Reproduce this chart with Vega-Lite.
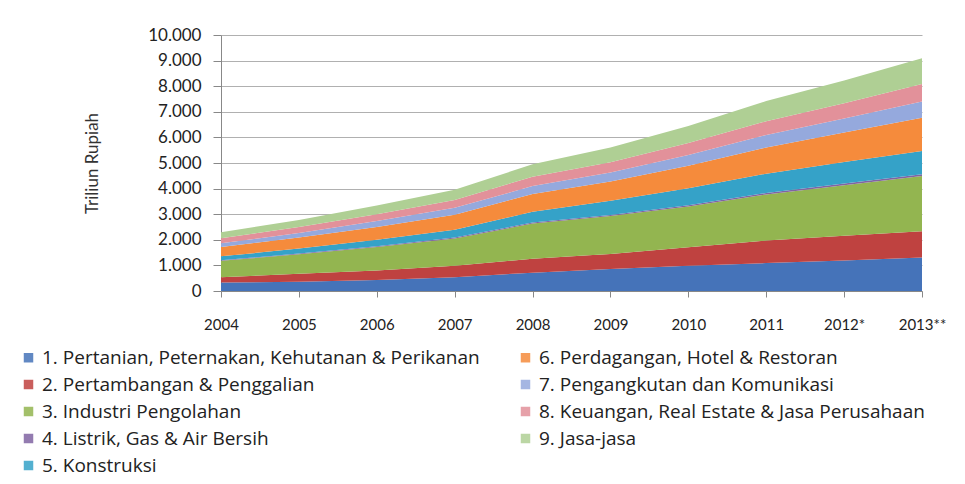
{
  "$schema": "https://vega.github.io/schema/vega-lite/v6.json",
  "autosize": {"type": "none"},
  "width": 701,
  "height": 256,
  "padding": {"left": 221, "top": 35, "right": 43, "bottom": 193},
  "background": "white",
  "config": {"view": {"stroke": null}, "font": "Lato"},
  "datasets": {
    "sectors": [
      {"k": 1, "sector": "1. Pertanian, Peternakan, Kehutanan & Perikanan"},
      {"k": 2, "sector": "2. Pertambangan & Penggalian"},
      {"k": 3, "sector": "3. Industri Pengolahan"},
      {"k": 4, "sector": "4. Listrik, Gas & Air Bersih"},
      {"k": 5, "sector": "5. Konstruksi"},
      {"k": 6, "sector": "6. Perdagangan, Hotel & Restoran"},
      {"k": 7, "sector": "7. Pengangkutan dan Komunikasi"},
      {"k": 8, "sector": "8. Keuangan, Real Estate & Jasa Perusahaan"},
      {"k": 9, "sector": "9. Jasa-jasa"}
    ],
    "gdp": [
      {"year": "2004", "k": 1, "v": 329.1}, {"year": "2004", "k": 2, "v": 205.3}, {"year": "2004", "k": 3, "v": 644.3}, {"year": "2004", "k": 4, "v": 23.7}, {"year": "2004", "k": 5, "v": 151.2}, {"year": "2004", "k": 6, "v": 368.6}, {"year": "2004", "k": 7, "v": 142.3}, {"year": "2004", "k": 8, "v": 194.4}, {"year": "2004", "k": 9, "v": 236.9},
      {"year": "2005", "k": 1, "v": 364.2}, {"year": "2005", "k": 2, "v": 309.0}, {"year": "2005", "k": 3, "v": 760.4}, {"year": "2005", "k": 4, "v": 26.7}, {"year": "2005", "k": 5, "v": 195.1}, {"year": "2005", "k": 6, "v": 431.6}, {"year": "2005", "k": 7, "v": 180.6}, {"year": "2005", "k": 8, "v": 230.5}, {"year": "2005", "k": 9, "v": 276.2},
      {"year": "2006", "k": 1, "v": 433.2}, {"year": "2006", "k": 2, "v": 366.5}, {"year": "2006", "k": 3, "v": 919.5}, {"year": "2006", "k": 4, "v": 30.4}, {"year": "2006", "k": 5, "v": 251.1}, {"year": "2006", "k": 6, "v": 501.5}, {"year": "2006", "k": 7, "v": 231.5}, {"year": "2006", "k": 8, "v": 269.1}, {"year": "2006", "k": 9, "v": 336.3},
      {"year": "2007", "k": 1, "v": 541.9}, {"year": "2007", "k": 2, "v": 440.6}, {"year": "2007", "k": 3, "v": 1068.7}, {"year": "2007", "k": 4, "v": 34.7}, {"year": "2007", "k": 5, "v": 305.2}, {"year": "2007", "k": 6, "v": 592.3}, {"year": "2007", "k": 7, "v": 264.3}, {"year": "2007", "k": 8, "v": 305.2}, {"year": "2007", "k": 9, "v": 398.2},
      {"year": "2008", "k": 1, "v": 716.7}, {"year": "2008", "k": 2, "v": 541.3}, {"year": "2008", "k": 3, "v": 1376.4}, {"year": "2008", "k": 4, "v": 40.9}, {"year": "2008", "k": 5, "v": 419.7}, {"year": "2008", "k": 6, "v": 691.5}, {"year": "2008", "k": 7, "v": 312.2}, {"year": "2008", "k": 8, "v": 368.1}, {"year": "2008", "k": 9, "v": 481.8},
      {"year": "2009", "k": 1, "v": 857.2}, {"year": "2009", "k": 2, "v": 592.1}, {"year": "2009", "k": 3, "v": 1477.5}, {"year": "2009", "k": 4, "v": 46.7}, {"year": "2009", "k": 5, "v": 555.2}, {"year": "2009", "k": 6, "v": 744.5}, {"year": "2009", "k": 7, "v": 353.7}, {"year": "2009", "k": 8, "v": 405.2}, {"year": "2009", "k": 9, "v": 574.1},
      {"year": "2010", "k": 1, "v": 985.5}, {"year": "2010", "k": 2, "v": 719.7}, {"year": "2010", "k": 3, "v": 1595.8}, {"year": "2010", "k": 4, "v": 49.1}, {"year": "2010", "k": 5, "v": 660.9}, {"year": "2010", "k": 6, "v": 882.5}, {"year": "2010", "k": 7, "v": 423.2}, {"year": "2010", "k": 8, "v": 466.6}, {"year": "2010", "k": 9, "v": 663.6},
      {"year": "2011", "k": 1, "v": 1091.4}, {"year": "2011", "k": 2, "v": 876.9}, {"year": "2011", "k": 3, "v": 1803.5}, {"year": "2011", "k": 4, "v": 55.9}, {"year": "2011", "k": 5, "v": 754.5}, {"year": "2011", "k": 6, "v": 1024.0}, {"year": "2011", "k": 7, "v": 491.3}, {"year": "2011", "k": 8, "v": 535.2}, {"year": "2011", "k": 9, "v": 785.0},
      {"year": "2012*", "k": 1, "v": 1190.4}, {"year": "2012*", "k": 2, "v": 970.8}, {"year": "2012*", "k": 3, "v": 1972.8}, {"year": "2012*", "k": 4, "v": 62.2}, {"year": "2012*", "k": 5, "v": 844.1}, {"year": "2012*", "k": 6, "v": 1148.7}, {"year": "2012*", "k": 7, "v": 549.1}, {"year": "2012*", "k": 8, "v": 598.5}, {"year": "2012*", "k": 9, "v": 889.0},
      {"year": "2013**", "k": 1, "v": 1311.0}, {"year": "2013**", "k": 2, "v": 1026.0}, {"year": "2013**", "k": 3, "v": 2152.8}, {"year": "2013**", "k": 4, "v": 70.1}, {"year": "2013**", "k": 5, "v": 905.1}, {"year": "2013**", "k": 6, "v": 1301.5}, {"year": "2013**", "k": 7, "v": 636.9}, {"year": "2013**", "k": 8, "v": 683.0}, {"year": "2013**", "k": 9, "v": 1000.8}
    ]
  },
  "data": {"name": "gdp"},
  "transform": [
    {"lookup": "k", "from": {"data": {"name": "sectors"}, "key": "k", "fields": ["sector"]}}
  ],
  "mark": {"type": "area", "opacity": 1},
  "encoding": {
    "x": {
      "field": "year",
      "type": "ordinal",
      "sort": null,
      "scale": {"padding": 0},
      "axis": {
        "title": null,
        "labelAngle": 0,
        "labelFontSize": 15,
        "labelColor": "#222",
        "domainColor": "#888",
        "tickColor": "#888",
        "tickSize": 6,
        "labelPadding": 20,
        "grid": false
      }
    },
    "y": {
      "field": "v",
      "type": "quantitative",
      "stack": "zero",
      "scale": {"domain": [0, 10000], "nice": false},
      "axis": {
        "title": "Triliun Rupiah",
        "titleFontSize": 17,
        "titleFontWeight": "normal",
        "titleColor": "#333",
        "titlePadding": 46,
        "values": [0, 1000, 2000, 3000, 4000, 5000, 6000, 7000, 8000, 9000, 10000],
        "labelExpr": "replace(format(datum.value, ','), ',', '.')",
        "labelFontSize": 17,
        "labelColor": "#222",
        "labelPadding": 12,
        "tickSize": 8,
        "tickColor": "#888",
        "domainColor": "#888",
        "gridColor": "#b0b0b0",
        "gridWidth": 1
      }
    },
    "color": {
      "field": "sector",
      "type": "nominal",
      "scale": {
        "domain": [
          "1. Pertanian, Peternakan, Kehutanan & Perikanan",
          "2. Pertambangan & Penggalian",
          "3. Industri Pengolahan",
          "4. Listrik, Gas & Air Bersih",
          "5. Konstruksi",
          "6. Perdagangan, Hotel & Restoran",
          "7. Pengangkutan dan Komunikasi",
          "8. Keuangan, Real Estate & Jasa Perusahaan",
          "9. Jasa-jasa"
        ],
        "range": ["#4573B9", "#BF4240", "#93B550", "#8064A2", "#35A2C8", "#F58B3C", "#95A9DD", "#E2919A", "#AFCF94"]
      },
      "legend": {
        "orient": "none",
        "legendX": -202,
        "legendY": 313,
        "title": null,
        "columns": 2,
        "symbolType": "square",
        "symbolSize": 90,
        "symbolStrokeWidth": 0,
        "symbolOpacity": 0.85,
        "labelFont": "Open Sans",
        "labelFontSize": 19,
        "labelColor": "#222",
        "labelOffset": 4,
        "labelLimit": 600,
        "rowPadding": 7,
        "columnPadding": 36
      }
    },
    "order": {"field": "k", "type": "quantitative"}
  }
}
